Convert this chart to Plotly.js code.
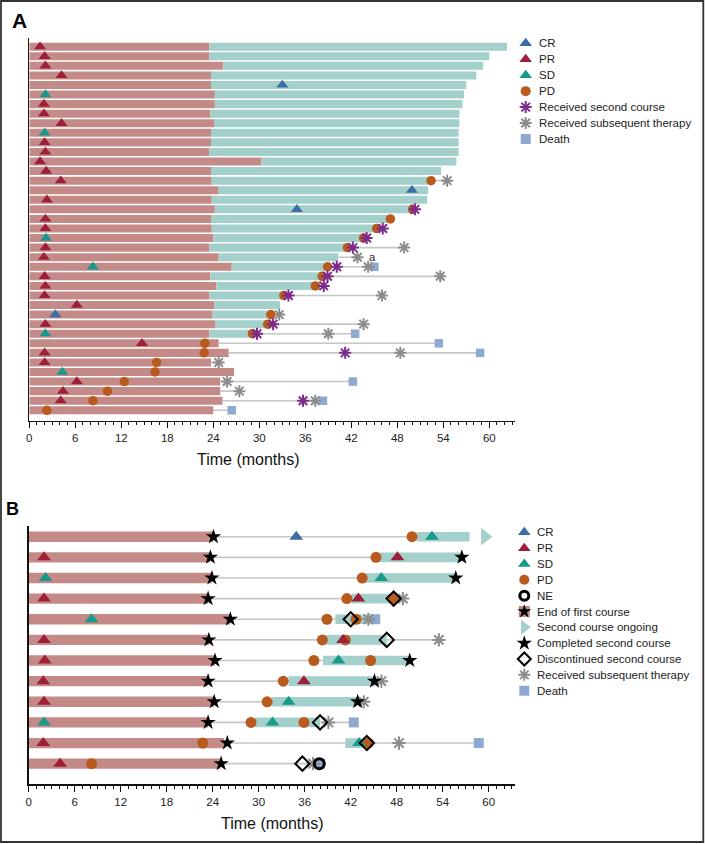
<!DOCTYPE html>
<html><head><meta charset="utf-8">
<script src="https://cdn.plot.ly/plotly-3.0.1.min.js"></script>
<style>html,body{margin:0;padding:0;background:#fff}#chart{width:705px;height:844px}</style>
</head><body><div id="chart"></div>
<script>
// ---------------- Panel A data (39 patients) ----------------
const rowsA = [1,2,3,4,5,6,7,8,9,10,11,12,13,14,15,16,17,18,19,20,21,22,23,24,25,26,27,28,29,30,31,32,33,34,35,36,37,38,39];
const firstEndA = [23.5,23.5,25.3,23.7,23.7,24.2,24.2,23.6,24.1,23.7,23.7,23.5,30.3,23.7,23.8,24.7,23.8,24.2,23.7,23.8,24.0,23.5,24.7,26.4,23.6,24.4,23.5,24.1,23.9,24.3,23.5,24.7,26.0,23.7,26.7,24.9,24.9,25.2,24.0];
const secondEndA = [62.3,60.0,59.2,58.3,57.0,56.7,56.5,56.1,56.1,56.0,56.0,56.0,55.7,53.7,52.4,52.0,51.9,50.3,47.1,45.5,43.7,41.5,40.3,38.8,38.3,37.9,33.1,32.7,31.0,31.0,29.2,null,null,null,null,null,null,null,null];
const crA_rows = [5,16,18,29];
const crA_t = [33.0,49.9,34.9,3.4];
const prA_rows = [1,2,3,4,7,8,9,11,12,13,14,15,17,19,20,22,23,25,26,27,28,30,32,33,34,36,37,38];
const prA_t = [1.4,2.0,2.1,4.2,1.9,1.9,4.2,2.0,2.1,1.4,2.2,4.1,2.3,2.1,2.1,2.1,1.9,2.0,2.1,2.0,6.2,2.1,14.7,2.0,2.0,6.2,4.4,4.1];
const sdA_rows = [6,10,21,24,31,35];
const sdA_t = [2.1,2.0,2.2,8.3,2.1,4.3];
const pdA_rows = [15,18,19,20,21,22,24,25,26,27,29,30,31,32,33,34,35,36,37,38,39];
const pdA_t = [52.4,50.0,47.1,45.3,43.6,41.5,38.9,38.2,37.3,33.2,31.5,31.1,29.1,22.9,22.8,16.6,16.4,12.4,10.2,8.3,2.3];
const secA_rows = [18,20,21,22,24,25,26,27,30,31,33,38];
const secA_t = [50.3,46.1,44.0,42.2,40.1,38.9,38.4,33.8,31.8,29.7,41.2,35.7];
const subA_rows = [15,22,23,24,25,27,29,30,31,33,34,36,37,38];
const subA_t = [54.5,48.9,42.8,44.2,53.6,46.0,32.6,43.6,39.0,48.4,24.7,25.8,27.4,37.3];
const deathA_rows = [24,31,32,33,36,38,39];
const deathA_t = [45.0,42.5,53.4,58.8,42.2,38.3,26.4];
const noteA_row = 23, noteA_t = 44.1, noteA_text = 'a';

// ---------------- Panel B data (12 patients) ----------------
const rowsB = [1,2,3,4,5,6,7,8,9,10,11,12];
const firstEndB = [24.1,23.6,23.9,23.4,26.3,23.5,24.3,23.4,24.2,23.4,25.5,25.0];
const endFirstB = [24.1,23.7,23.9,23.4,26.3,23.5,24.3,23.4,24.2,23.4,25.9,25.1];
const secondStartB = [50.6,45.8,43.9,42.1,40.0,38.7,38.4,33.9,31.7,29.5,41.3,null];
const secondEndB = [57.5,56.5,55.7,47.6,44.5,46.7,49.7,45.2,42.8,38.0,44.1,null];
const crB_rows = [1];
const crB_t = [34.9];
const prB_rows = [2,4,6,7,8,9,11,12,2,4,6,8];
const prB_t = [2.0,2.0,2.0,2.1,1.9,2.0,1.9,4.1,48.1,43.0,41.0,35.9];
const sdB_rows = [1,3,3,5,7,9,10,10,11];
const sdB_t = [52.6,2.2,46.0,8.2,40.4,33.9,2.0,31.8,43.1];
const pdB_rows = [1,2,3,4,4,5,5,6,6,7,7,8,9,10,10,11,11,12];
const pdB_t = [50.0,45.3,43.5,41.5,47.6,38.9,42.7,38.3,41.3,37.2,44.6,33.2,31.1,29.0,35.9,22.7,44.3,8.2];
const neB_rows = [12];
const neB_t = [37.9];
const ongoingB_rows = [1];
const ongoingB_t = [59.5];
const completedB_rows = [2,3,7,8,9];
const completedB_t = [56.5,55.7,49.7,45.1,42.9];
const discB_rows = [4,5,6,10,11,12];
const discB_t = [47.6,42.0,46.7,38.0,44.1,35.7];
const subB_rows = [4,5,6,8,9,10,11,12];
const subB_t = [48.8,44.3,53.5,46.0,43.7,39.1,48.3,37.1];
const deathB_rows = [5,10,11,12];
const deathB_t = [45.2,42.4,58.7,38.0];

const legendA = ['CR','PR','SD','PD','Received second course','Received subsequent therapy','Death'];
const legendB = ['CR','PR','SD','PD','NE','End of first course','Second course ongoing','Completed second course','Discontinued second course','Received subsequent therapy','Death'];
const xTitle = 'Time (months)';

// ---------------- styles ----------------
const FONT = 'Liberation Sans, Arial, Helvetica, sans-serif';
const C = {pink:'#c48a87', teal:'#a3d0cb', line:'#c6c6c6', CR:'#3b6ea5', PR:'#9e1f3a', SD:'#17998b',
  PD:'#b95a1e', second:'#7d2b8b', subseq:'#8c8c8c', death:'#8eaad3', black:'#000'};
const tri = (c,s)=>({symbol:'triangle-up', size:s, color:c, line:{width:0}});
const circ = (c,s)=>({symbol:'circle', size:s, color:c, line:{width:0}});
const ast = (c,s)=>({symbol:'asterisk-open', size:s, color:c, line:{color:c, width:2}});
const sq = (c,s)=>({symbol:'square', size:s, color:c, line:{width:0}});
const star = s=>({symbol:'star', size:s, color:C.black, line:{width:0}});
const diam = s=>({symbol:'diamond-open', size:s, color:C.black, line:{color:C.black, width:2}});
const neS = s=>({symbol:'circle-open', size:s, color:C.black, line:{color:C.black, width:3}});
const arrow = s=>({symbol:'triangle-right', size:s, color:C.teal, line:{width:0}});

function mk(rows, t, marker, xa, ya){
  return {type:'scatter', mode:'markers', x:t, y:rows, xaxis:xa, yaxis:ya, cliponaxis:false,
    hoverinfo:'skip', showlegend:false, marker:marker};
}
function eventsByRow(n, lists){
  const m = Array.from({length:n+1}, ()=>[]);
  lists.forEach(([r,t])=>r.forEach((row,i)=>m[row].push(t[i])));
  return m;
}

const traces = [];

// ----- Panel A follow-up lines -----
(function(){
  const ev = eventsByRow(rowsA.length, [[crA_rows,crA_t],[prA_rows,prA_t],[sdA_rows,sdA_t],[pdA_rows,pdA_t],
    [secA_rows,secA_t],[subA_rows,subA_t],[deathA_rows,deathA_t]]);
  const lx=[], ly=[];
  rowsA.forEach((r,i)=>{
    const barEnd = secondEndA[i]!=null ? secondEndA[i] : firstEndA[i];
    const last = ev[r].length ? Math.max(...ev[r]) : -1;
    if (last > barEnd + 0.05){ lx.push(barEnd,last,null); ly.push(r,r,null); }
  });
  traces.push({type:'scatter', mode:'lines', x:lx, y:ly, xaxis:'x', yaxis:'y', hoverinfo:'skip',
    showlegend:false, line:{color:C.line, width:1.6}});
})();
// ----- Panel A bars -----
traces.push({type:'bar', orientation:'h', y:rowsA, x:firstEndA, base:0, width:0.84, xaxis:'x', yaxis:'y',
  marker:{color:C.pink}, hoverinfo:'skip', showlegend:false});
(function(){
  const ry=[], rx=[], rb=[];
  rowsA.forEach((r,i)=>{ if (secondEndA[i]!=null){ ry.push(r); rb.push(firstEndA[i]); rx.push(secondEndA[i]-firstEndA[i]); } });
  traces.push({type:'bar', orientation:'h', y:ry, x:rx, base:rb, width:0.84, xaxis:'x', yaxis:'y',
    marker:{color:C.teal}, hoverinfo:'skip', showlegend:false});
})();
// ----- Panel A markers -----
traces.push(mk(deathA_rows, deathA_t, sq(C.death,8.5), 'x','y'));
traces.push(mk(subA_rows, subA_t, ast(C.subseq,10), 'x','y'));
traces.push(mk(pdA_rows, pdA_t, circ(C.PD,9.5), 'x','y'));
traces.push(mk(secA_rows, secA_t, ast(C.second,10), 'x','y'));
traces.push(mk(crA_rows, crA_t, tri(C.CR,10.5), 'x','y'));
traces.push(mk(prA_rows, prA_t, tri(C.PR,10.5), 'x','y'));
traces.push(mk(sdA_rows, sdA_t, tri(C.SD,10.5), 'x','y'));

// ----- Panel B follow-up lines -----
(function(){
  const ev = eventsByRow(rowsB.length, [[crB_rows,crB_t],[prB_rows,prB_t],[sdB_rows,sdB_t],[pdB_rows,pdB_t],
    [neB_rows,neB_t],[completedB_rows,completedB_t],[discB_rows,discB_t],[subB_rows,subB_t],[deathB_rows,deathB_t]]);
  const lx=[], ly=[];
  rowsB.forEach((r,i)=>{
    const last = ev[r].length ? Math.max(...ev[r]) : -1;
    const s = endFirstB[i];
    const e1 = secondStartB[i]!=null ? secondStartB[i] : last;
    if (e1 > s){ lx.push(s,e1,null); ly.push(r,r,null); }
    if (secondEndB[i]!=null && last > secondEndB[i] + 0.05){ lx.push(secondEndB[i],last,null); ly.push(r,r,null); }
  });
  traces.push({type:'scatter', mode:'lines', x:lx, y:ly, xaxis:'x2', yaxis:'y2', hoverinfo:'skip',
    showlegend:false, line:{color:C.line, width:1.6}});
})();
// ----- Panel B bars -----
traces.push({type:'bar', orientation:'h', y:rowsB, x:firstEndB, base:0, width:0.5, xaxis:'x2', yaxis:'y2',
  marker:{color:C.pink}, hoverinfo:'skip', showlegend:false});
(function(){
  const ry=[], rx=[], rb=[];
  rowsB.forEach((r,i)=>{ if (secondStartB[i]!=null){ ry.push(r); rb.push(secondStartB[i]); rx.push(secondEndB[i]-secondStartB[i]); } });
  traces.push({type:'bar', orientation:'h', y:ry, x:rx, base:rb, width:0.47, xaxis:'x2', yaxis:'y2',
    marker:{color:C.teal}, hoverinfo:'skip', showlegend:false});
})();
// ----- Panel B markers -----
traces.push(mk(ongoingB_rows, ongoingB_t, arrow(15), 'x2','y2'));
traces.push(mk(deathB_rows, deathB_t, sq(C.death,10), 'x2','y2'));
traces.push(mk(subB_rows, subB_t, ast(C.subseq,11), 'x2','y2'));
traces.push(mk(pdB_rows, pdB_t, circ(C.PD,11), 'x2','y2'));
traces.push(mk(crB_rows, crB_t, tri(C.CR,12), 'x2','y2'));
traces.push(mk(prB_rows, prB_t, tri(C.PR,12), 'x2','y2'));
traces.push(mk(sdB_rows, sdB_t, tri(C.SD,12), 'x2','y2'));
traces.push(mk(neB_rows, neB_t, neS(10), 'x2','y2'));
traces.push(mk(discB_rows, discB_t, diam(11), 'x2','y2'));
traces.push(mk(completedB_rows, completedB_t, star(11.5), 'x2','y2'));
traces.push(mk(rowsB, endFirstB, star(11.5), 'x2','y2'));

// ---------------- legends (drawn on a pixel-space overlay axis) ----------------
const annotations = [];
function legend(labels, symbolSets, mx, tx, y0, dy){
  labels.forEach((lab,i)=>{
    const y = y0 + i*dy;
    symbolSets[i].forEach(m=>traces.push(mk([y],[mx], m, 'x3','y3')));
    annotations.push({xref:'paper', yref:'paper', x:tx/705, y:1-y/844, xanchor:'left', yanchor:'middle',
      text:lab, showarrow:false, font:{family:FONT, size:11.5, color:'#222'}});
  });
}
legend(legendA, [[tri(C.CR,11)],[tri(C.PR,11)],[tri(C.SD,11)],[circ(C.PD,10)],[ast(C.second,10)],[ast(C.subseq,10)],[sq(C.death,10)]],
  525.7, 536.5, 43.3, 15.95);
legend(legendB, [[tri(C.CR,11)],[tri(C.PR,11)],[tri(C.SD,11)],[circ(C.PD,10)],[neS(9)],[sq(C.pink,11), star(10.5)],
  [arrow(13)],[star(11.5)],[diam(10)],[ast(C.subseq,10)],[sq(C.death,10)]],
  524.3, 535, 532.3, 15.84);

// panel letters, axis titles, footnote
annotations.push({xref:'paper', yref:'paper', x:19.5/705, y:1-20.5/844, xanchor:'center', yanchor:'middle', showarrow:false,
  text:'<b>A</b>', font:{family:FONT, size:21, color:'#000'}});
annotations.push({xref:'paper', yref:'paper', x:12.5/705, y:1-509.5/844, xanchor:'center', yanchor:'middle', showarrow:false,
  text:'<b>B</b>', font:{family:FONT, size:18, color:'#000'}});
annotations.push({xref:'paper', yref:'paper', x:248.5/705, y:1-460/844, xanchor:'center', yanchor:'middle', showarrow:false,
  text:xTitle, font:{family:FONT, size:16, color:'#111'}});
annotations.push({xref:'paper', yref:'paper', x:272.5/705, y:1-823/844, xanchor:'center', yanchor:'middle', showarrow:false,
  text:xTitle, font:{family:FONT, size:16, color:'#111'}});
annotations.push({xref:'x', yref:'y', x:noteA_t, y:noteA_row, xanchor:'left', yanchor:'middle', showarrow:false,
  text:noteA_text, font:{family:FONT, size:11, color:'#222'}});

const xBase = {showline:true, linecolor:'#111', linewidth:1.4, ticks:'outside', ticklen:6, tickwidth:1.2, tickcolor:'#111',
  tick0:0, dtick:6, showgrid:false, zeroline:false, fixedrange:true,
  tickfont:{family:FONT, size:11.5, color:'#222'},
  minor:{ticks:'outside', ticklen:3, dtick:1, tick0:0, tickwidth:1, tickcolor:'#111', showgrid:false}};
const yBase = {showline:true, linecolor:'#111', linewidth:1.4, showticklabels:false, ticks:'', showgrid:false,
  zeroline:false, fixedrange:true};

const layout = {
  width:705, height:844, autosize:false, margin:{l:0,r:0,t:0,b:0},
  paper_bgcolor:'#fff', plot_bgcolor:'rgba(0,0,0,0)', barmode:'overlay', showlegend:false,
  font:{family:FONT, color:'#222'},
  xaxis: Object.assign({}, xBase, {domain:[29.3/705, 515/705], range:[0, 63.35], anchor:'y'}),
  yaxis: Object.assign({}, yBase, {domain:[1-420.7/844, 1-38/844], range:[40.09, 0.09], anchor:'x'}),
  xaxis2: Object.assign({}, xBase, {domain:[28.7/705, 515/705], range:[0, 63.43], anchor:'y2'}),
  yaxis2: Object.assign({}, yBase, {domain:[1-784.3/844, 1-526/844], range:[13.0, 0.48], anchor:'x2'}),
  xaxis3: {domain:[0,1], range:[0,705], visible:false, fixedrange:true, anchor:'y3'},
  yaxis3: {domain:[0,1], range:[844,0], visible:false, fixedrange:true, anchor:'x3'},
  annotations: annotations,
  shapes:[{type:'rect', xref:'paper', yref:'paper', x0:1/705, x1:703.3/705, y0:1-842/844, y1:1-1/844,
    line:{color:'#333', width:1.8}, fillcolor:'rgba(0,0,0,0)'}]
};

Plotly.newPlot('chart', traces, layout, {staticPlot:true, displayModeBar:false});
</script>
</body></html>
